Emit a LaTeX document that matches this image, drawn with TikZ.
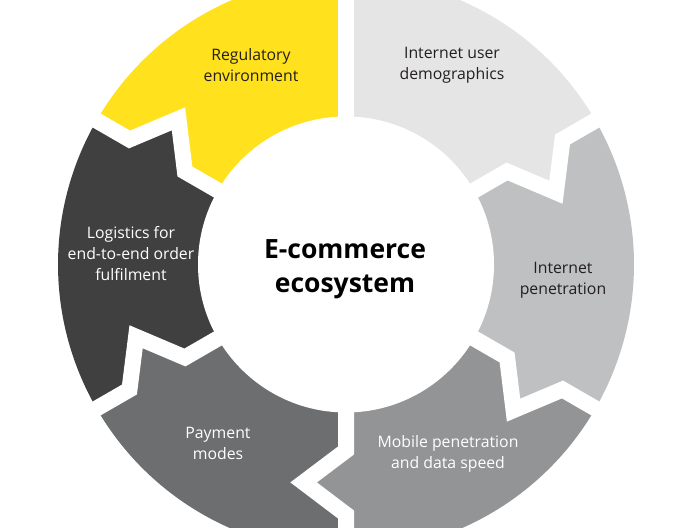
\documentclass[tikz,border=0pt]{standalone}
\usepackage{fontspec}
\setmainfont{Open Sans}
\begin{document}
\begin{tikzpicture}[x=1pt,y=1pt,
  lbl/.style={align=center,font=\fontsize{15.8}{21}\selectfont},
  darklbl/.style={lbl,text=txtdark},
  lightlbl/.style={lbl,text=white},
  gap/.style={white,line width=16pt,line join=miter}]
\definecolor{cyel}{RGB}{255,225,30}
\definecolor{cdem}{RGB}{229,229,230}
\definecolor{cpen}{RGB}{191,192,193}
\definecolor{cmob}{RGB}{147,148,150}
\definecolor{cpay}{RGB}{109,110,112}
\definecolor{clog}{RGB}{64,64,65}
\definecolor{txtdark}{RGB}{35,31,32}
\useasboundingbox (0,0) rectangle (689,528);
\clip (0,0) rectangle (689,528);
\def\R{288}
\begin{scope}[shift={(346,263.5)}]
  % demographics (flat start at 90)
  \fill[cdem] (0,0) -- (90:\R) arc[start angle=90,end angle=30,radius=\R]
     -- (30:250) -- (19:222) -- (30:186) -- cycle;
  % penetration
  \fill[cpen] (0,0) -- (30:186) -- (19:222) -- (30:250) -- (30:\R)
     arc[start angle=30,end angle=-30,radius=\R]
     -- (-30:250) -- (-41:222) -- (-30:186) -- cycle;
  % mobile
  \fill[cmob] (0,0) -- (-30:186) -- (-41:222) -- (-30:250) -- (-30:\R)
     arc[start angle=-30,end angle=-90,radius=\R]
     -- (-90:250) -- (-101:222) -- (-90:186) -- cycle;
  % payment
  \fill[cpay] (0,0) -- (-90:186) -- (-101:222) -- (-90:250) -- (-90:\R)
     arc[start angle=-90,end angle=-150,radius=\R]
     -- (-150:250) -- (-161:222) -- (-150:186) -- cycle;
  % logistics
  \fill[clog] (0,0) -- (-150:186) -- (-161:222) -- (-150:250) -- (-150:\R)
     arc[start angle=-150,end angle=-210,radius=\R]
     -- (150:250) -- (139:222) -- (150:186) -- cycle;
  % regulatory (flat end at 90)
  \fill[cyel] (0,0) -- (150:186) -- (139:222) -- (150:250) -- (150:\R)
     arc[start angle=150,end angle=90,radius=\R] -- cycle;
  % gaps
  \draw[gap] (0,0) -- (90:300);
  \foreach \b in {30,-30,-90,-150,150}{
    \draw[gap] (0,0) -- (\b:186) -- ({\b-11}:222) -- (\b:250) -- (\b:300);
  }
  \fill[white] (0,0) circle (148);
\end{scope}
\node[darklbl]  (reg) at (251,463) {Regulatory\\environment};
\node[darklbl]  (dem) at (452,463) {Internet user\\demographics};
\node[lightlbl] (log) at (131,274) {Logistics for\\end-to-end order\\fulfilment};
\node[darklbl]  (pen) at (563,248) {Internet\\penetration};
\node[lightlbl] (mob) at (448,74) {Mobile penetration\\and data speed};
\node[lightlbl] (pay) at (218,84.5) {Payment\\modes};
\node[align=center,font=\fontsize{26.5}{34}\selectfont\bfseries] (ctr) at (345,259) {E-commerce\\ecosystem};
\end{tikzpicture}
\end{document}
